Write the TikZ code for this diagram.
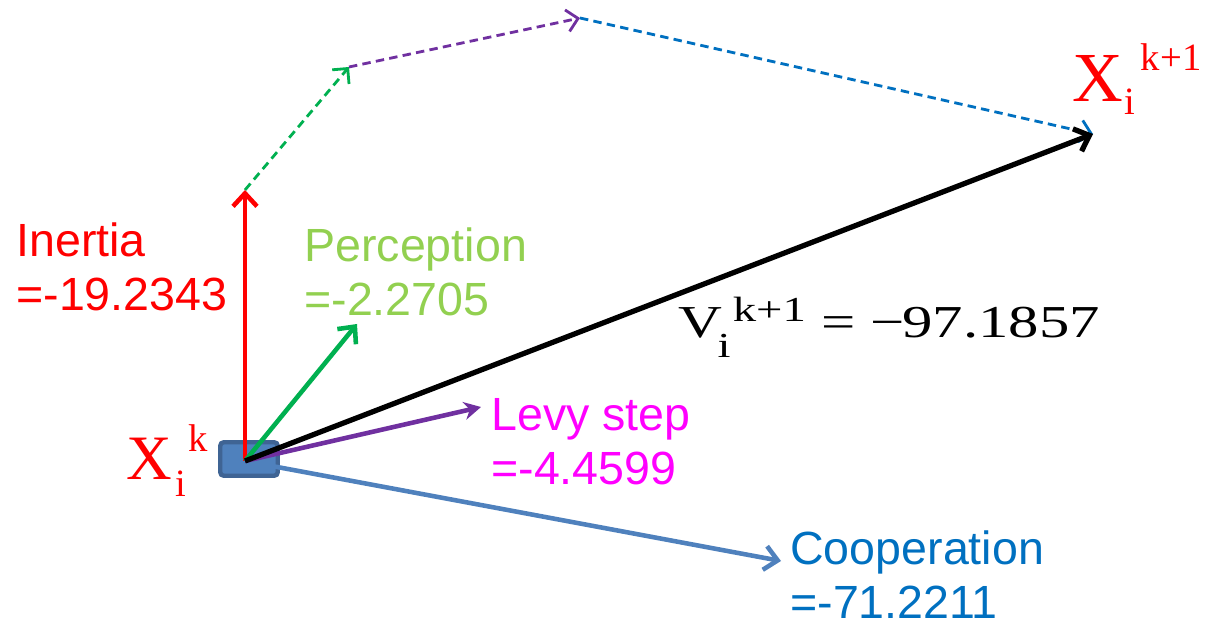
\documentclass[tikz,border=0pt]{standalone}
\usepackage{fontspec}
\setmainfont{Liberation Serif}
\setsansfont{Liberation Sans}
\usetikzlibrary{arrows.meta}
\definecolor{rojo}{HTML}{FF0000}
\definecolor{verde}{HTML}{00B050}
\definecolor{verdeclaro}{HTML}{92D050}
\definecolor{morado}{HTML}{7030A0}
\definecolor{rosa}{HTML}{FF00FF}
\definecolor{azul}{HTML}{4F81BD}
\definecolor{azuloscuro}{HTML}{0070C0}
\definecolor{borde}{HTML}{3F6494}

\begin{document}
\begin{tikzpicture}[
  x=0.02cm, y=-0.02cm,
  vector/.style={-{Straight Barb[length=2.6mm,width=4.8mm]}, line width=2.6pt},
  paso/.style={-{Straight Barb[length=2.2mm,width=4.4mm]}, line width=1.6pt, dash pattern=on 4.8pt off 3pt},
  etiqueta/.style={font=\sffamily\fontsize{26.5}{31}\selectfont, align=left, anchor=base west, inner sep=0pt},
  simbolo/.style={anchor=base west, inner sep=0pt},
  caja/.style={draw=borde, fill=azul, line width=2.5pt, rounded corners=2pt, minimum width=1.15cm, minimum height=0.67cm}
]
\useasboundingbox (0,0) rectangle (1207,624);

\node[caja] (agente) at (249,459) {};

\coordinate (o) at (245,461);
\coordinate (ine) at (245,190);
\coordinate (per) at (349,67);
\coordinate (lev) at (580,18);
\coordinate (sig) at (1093,134);
\coordinate (perc) at (357,324);
\coordinate (levc) at (481,407);
\coordinate (coop) at (781,561);

% pasos discontinuos
\draw[paso, verde] (ine) -- (per);
\draw[paso, morado] (per) -- (lev);
\draw[paso, azuloscuro] (lev) -- (sig);

% componentes
\draw[vector, azul] (o) -- (coop);
\draw[vector, rojo] (o) -- (ine);
\draw[vector, verde] (o) -- (perc);
\draw[line width=2.6pt, morado, -{Stealth[length=3.4mm,width=3.6mm]}] (o) -- (levc);
\draw[vector, black, line width=3pt] (o) -- (sig);

% etiquetas (base = ultima linea)
\node[etiqueta, text=rojo] (inercia) at (16,311) {Inertia\\=-19.2343};
\node[etiqueta, text=verdeclaro] (percepcion) at (304,316) {Perception\\=-2.2705};
\node[etiqueta, text=rosa] (levy) at (491,485) {Levy step\\=-4.4599};
\node[etiqueta, text=azuloscuro] (cooperacion) at (790,619) {Cooperation\\=-71.2211};

\node[simbolo, text=rojo, font=\fontsize{36}{36}\selectfont] (xk) at (126,480)
  {X\kern2pt\raisebox{-9.6pt}{\fontsize{22}{22}\selectfont i}\kern1pt\raisebox{16pt}{\fontsize{22}{22}\selectfont k}};
\node[simbolo, text=rojo, font=\fontsize{40}{40}\selectfont] (xk1) at (1072,102)
  {X\kern1pt\raisebox{-7.4pt}{\fontsize{22}{22}\selectfont i}\kern3pt\raisebox{18pt}{\fontsize{22}{22}\selectfont k+1}};
\node[simbolo, font=\fontsize{26}{26}\selectfont] (vel) at (678,338)
  {\scalebox{1.33}[1]{V\kern-2pt\raisebox{-11pt}{\fontsize{20}{20}\selectfont i}\kern1pt\raisebox{9.6pt}{\fontsize{20}{20}\selectfont k+1} = \char"2212\kern-1pt 97.1857}};
\end{tikzpicture}
\end{document}
